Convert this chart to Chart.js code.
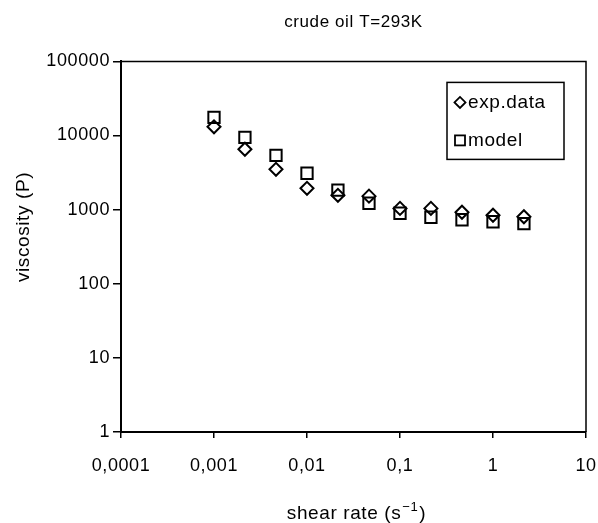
<!DOCTYPE html>
<html><head><meta charset="utf-8">
<script src="https://cdn.jsdelivr.net/npm/chart.js@4"></script>
<style>html,body{margin:0;padding:0;background:#fff}#wrap{width:598px;height:523px}</style>
</head><body><div id="wrap"><canvas id="c" width="598" height="523"></canvas></div>
<script>
const shearRate = [0.001, 0.00215, 0.00464, 0.01, 0.0215, 0.0464, 0.1, 0.215, 0.464, 1, 2.15];
const expData = [13100, 6520, 3500, 1940, 1560, 1520, 1040, 1040, 922, 841, 802];
const modelData = [17600, 9460, 5410, 3100, 1830, 1220, 894, 790, 731, 687, 646];
const xTickValues = [0.0001, 0.001, 0.01, 0.1, 1, 10];
const xTickLabels = ['0,0001', '0,001', '0,01', '0,1', '1', '10'];
const yTickValues = [1, 10, 100, 1000, 10000, 100000];
const yTickLabels = ['1', '10', '100', '1000', '10000', '100000'];
const seriesNames = ['exp.data', 'model'];
const chartTitle = 'crude oil T=293K';
const xTitleParts = ['shear rate (s', '\u22121', ')'];
const yTitle = 'viscosity (P)';

const FONT = "'Liberation Sans', Arial, sans-serif";
const SPACING = '0.6px';

const spacingPlugin = {
  id: 'spacing',
  beforeUpdate(chart) { chart.ctx.letterSpacing = SPACING; },
  beforeLayout(chart) { chart.ctx.letterSpacing = SPACING; },
  beforeDraw(chart) { chart.ctx.letterSpacing = SPACING; }
};

const framePlugin = {
  id: 'frame',
  afterDatasetsDraw(chart) {
    const {ctx, chartArea: a} = chart;
    ctx.save();
    ctx.strokeStyle = '#000';
    ctx.lineWidth = 1.5;
    ctx.beginPath();
    ctx.moveTo(a.left, a.top);
    ctx.lineTo(a.right, a.top);
    ctx.lineTo(a.right, a.bottom);
    ctx.stroke();
    ctx.restore();
  }
};

const axisTitlePlugin = {
  id: 'axisTitles',
  afterDraw(chart) {
    const {ctx} = chart;
    ctx.save();
    ctx.letterSpacing = SPACING;
    ctx.fillStyle = '#000';
    ctx.textBaseline = 'alphabetic';
    ctx.textAlign = 'left';
    const big = '19px ' + FONT, small = '13px ' + FONT;
    ctx.font = big;
    const w0 = ctx.measureText(xTitleParts[0]).width;
    const w2 = ctx.measureText(xTitleParts[2]).width;
    ctx.font = small;
    const w1 = ctx.measureText(xTitleParts[1]).width + 1;
    let x = 356 - (w0 + w1 + w2) / 2;
    const base = 519;
    ctx.font = big;
    ctx.fillText(xTitleParts[0], x, base);
    x += w0 + 1;
    ctx.font = small;
    ctx.fillText(xTitleParts[1], x, base - 8);
    x += w1;
    ctx.font = big;
    ctx.fillText(xTitleParts[2], x, base);

    ctx.font = big;
    ctx.textAlign = 'center';
    ctx.textBaseline = 'middle';
    ctx.translate(24, 227);
    ctx.rotate(-Math.PI / 2);
    ctx.fillText(yTitle, 0, 0);
    ctx.restore();
  }
};

const legendPlugin = {
  id: 'boxLegend',
  afterDraw(chart) {
    const {ctx, chartArea: a} = chart;
    const bx = a.right - 139, by = a.top + 21, bw = 117, bh = 77;
    ctx.save();
    ctx.letterSpacing = SPACING;
    ctx.strokeStyle = '#000';
    ctx.lineWidth = 1.5;
    ctx.strokeRect(bx, by, bw, bh);
    ctx.font = '19px ' + FONT;
    ctx.fillStyle = '#000';
    ctx.textBaseline = 'middle';
    ctx.lineWidth = 1.8;
    const mx = bx + 13;
    let my = by + 20;
    ctx.beginPath();
    ctx.moveTo(mx - 5.5, my); ctx.lineTo(mx, my - 5.5); ctx.lineTo(mx + 5.5, my); ctx.lineTo(mx, my + 5.5); ctx.closePath();
    ctx.stroke();
    ctx.fillText(chart.data.datasets[0].label, bx + 21, my);
    my = by + 58;
    ctx.strokeRect(mx - 5, my - 5, 10, 10);
    ctx.fillText(chart.data.datasets[1].label, bx + 21, my);
    ctx.restore();
  }
};

new Chart(document.getElementById('c'), {
  type: 'scatter',
  data: {
    datasets: [
      {
        label: seriesNames[0],
        data: shearRate.map((x, i) => ({x, y: expData[i]})),
        pointStyle: 'rectRot',
        pointRadius: 6.5,
        pointBorderWidth: 2,
        borderColor: '#000',
        backgroundColor: 'rgba(0,0,0,0)'
      },
      {
        label: seriesNames[1],
        data: shearRate.map((x, i) => ({x, y: modelData[i]})),
        pointStyle: 'rect',
        pointRadius: 8,
        pointBorderWidth: 2,
        borderColor: '#000',
        backgroundColor: 'rgba(0,0,0,0)'
      }
    ]
  },
  options: {
    responsive: false,
    animation: false,
    layout: {padding: {left: 0, right: 12, top: 0, bottom: 0}},
    plugins: {
      legend: {display: false},
      tooltip: {enabled: false},
      title: {
        display: true,
        text: chartTitle,
        fullSize: false,
        color: '#000',
        font: {family: FONT, size: 17, weight: 'normal', lineHeight: 1.2},
        padding: {top: 12, bottom: 29}
      }
    },
    scales: {
      x: {
        type: 'logarithmic',
        min: xTickValues[0],
        max: xTickValues[xTickValues.length - 1],
        afterBuildTicks(s) { s.ticks = xTickValues.map(v => ({value: v})); },
        afterFit(s) { s.height = 91; s.paddingLeft = 0; s.paddingRight = 0; },
        ticks: {
          color: '#000',
          font: {family: FONT, size: 18},
          padding: 17,
          maxRotation: 0,
          autoSkip: false,
          callback: (v) => { const i = xTickValues.indexOf(v); return i >= 0 ? xTickLabels[i] : ''; }
        },
        grid: {display: true, drawOnChartArea: false, drawTicks: true, tickLength: 6, color: '#000', lineWidth: 1.5},
        border: {display: true, color: '#000', width: 2},
        title: {display: false}
      },
      y: {
        type: 'logarithmic',
        min: yTickValues[0],
        max: yTickValues[yTickValues.length - 1],
        afterBuildTicks(s) { s.ticks = yTickValues.map(v => ({value: v})); },
        afterFit(s) { s.width = 121; s.paddingTop = 0; s.paddingBottom = 0; },
        ticks: {
          color: '#000',
          font: {family: FONT, size: 18},
          padding: 3,
          autoSkip: false,
          callback: (v) => { const i = yTickValues.indexOf(v); return i >= 0 ? yTickLabels[i] : ''; }
        },
        grid: {display: true, drawOnChartArea: false, drawTicks: true, tickLength: 8, color: '#000', lineWidth: 1.5},
        border: {display: true, color: '#000', width: 2},
        title: {display: false}
      }
    }
  },
  plugins: [spacingPlugin, framePlugin, axisTitlePlugin, legendPlugin]
});
</script>
</body></html>
